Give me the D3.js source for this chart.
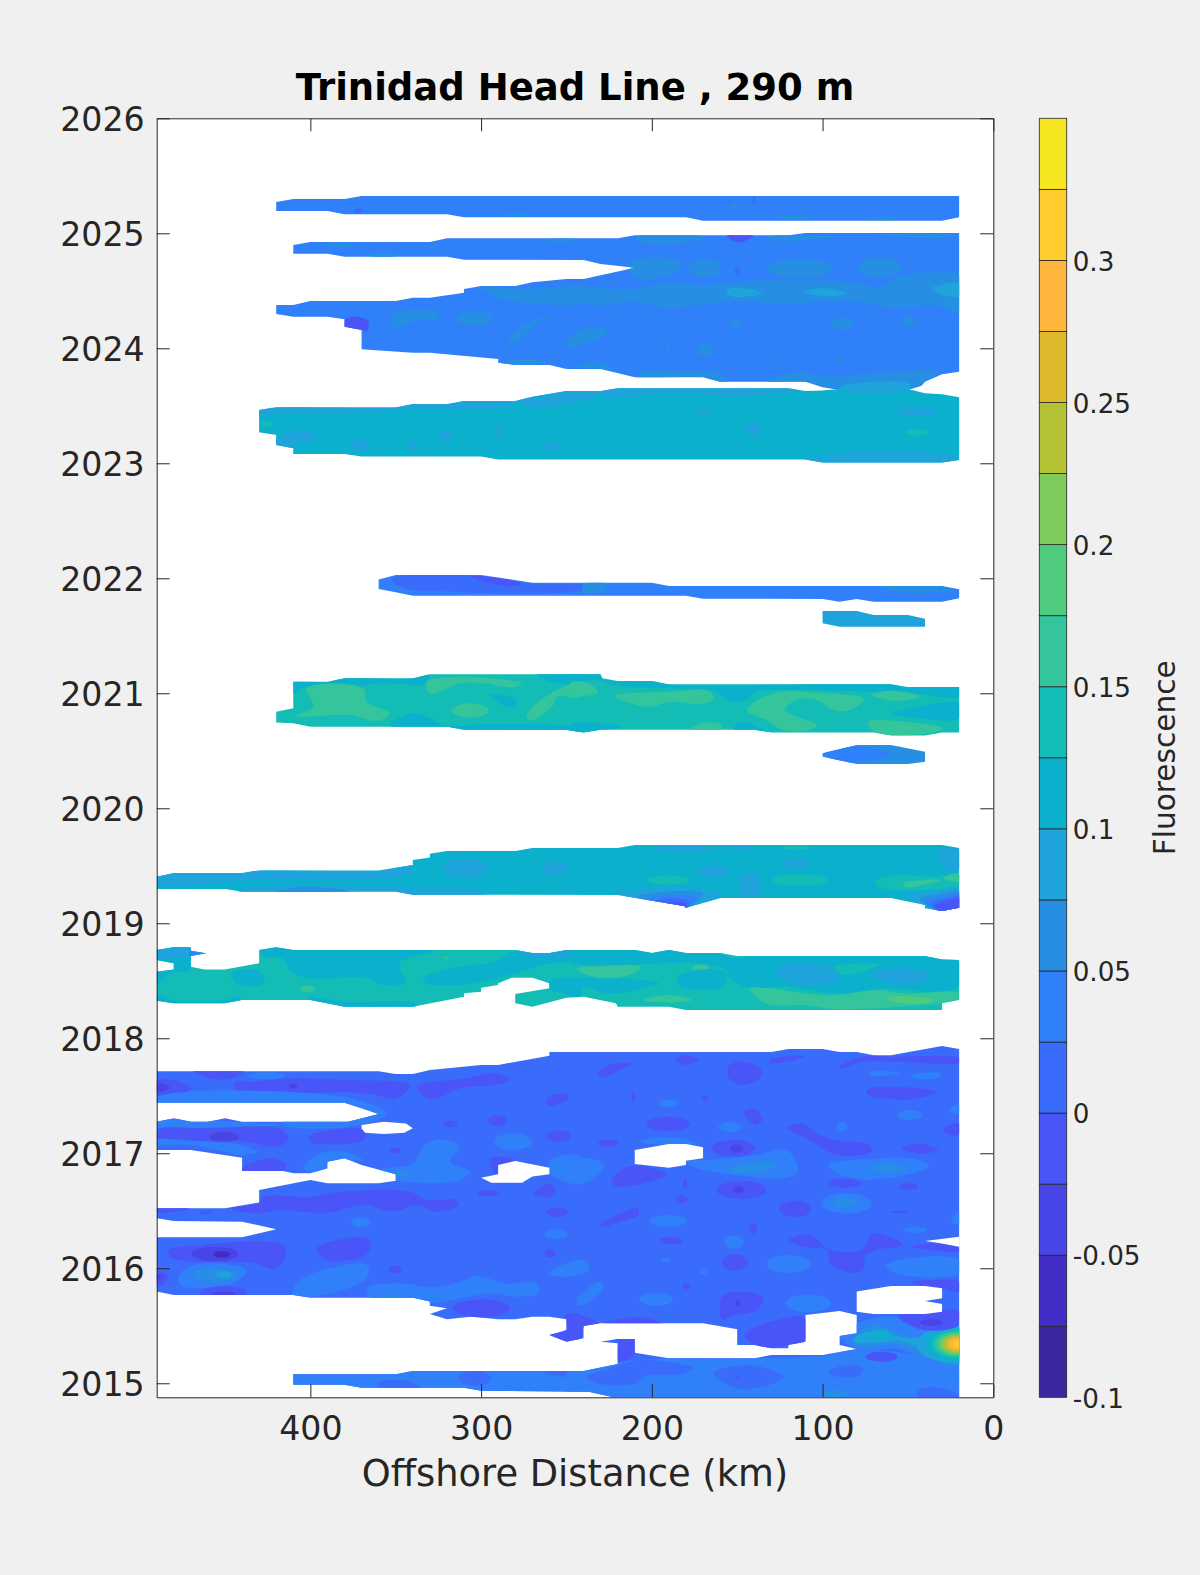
<!DOCTYPE html>
<html><head><meta charset="utf-8">
<script src="https://cdn.jsdelivr.net/npm/d3@7"></script>
<style>html,body{margin:0;padding:0;background:#f0f0f0}svg{display:block}text{font-family:"DejaVu Sans";fill:#262626}</style>
</head><body><svg id="c" width="1200" height="1575"></svg>
<script>
const titleText = "Trinidad Head Line , 290 m";
const xLabelText = "Offshore Distance (km)";
const barLabelText = "Fluorescence";
const distanceTicks = [400, 300, 200, 100, 0];
const yearTicks = [2015, 2016, 2017, 2018, 2019, 2020, 2021, 2022, 2023, 2024, 2025, 2026];
const barTicks = [-0.1, -0.05, 0, 0.05, 0.1, 0.15, 0.2, 0.25, 0.3];
const levels = [-0.1, -0.075, -0.05, -0.025, 0, 0.025, 0.05, 0.075, 0.1, 0.125, 0.15, 0.175, 0.2, 0.225, 0.25, 0.275, 0.3, 0.325, 0.35];
const levelColors = ["#3b26a0","#412cc5","#4845e6","#4a55f8","#3a6cfc","#2f80f9","#268fe3","#1fa3db","#0bb0cd","#13bdb6","#34c59c","#4fcb7e","#7fcb5c","#b3c132","#ddba2b","#fdb53c","#ffcc2e","#f6e621"];

// Measured extents: [fluorescence, outline as [km, year]]
const outline2025 = [[420,2025.272],[410,2025.298],[380,2025.298],[370,2025.324],[20,2025.324],[20,2025.139],[30,2025.11],[170,2025.11],[180,2025.139],[310,2025.139],[320,2025.165],[380,2025.165],[390,2025.194],[420,2025.194]];
const outline2024 = [[410,2024.898],[400,2024.924],[330,2024.924],[320,2024.956],[220,2024.956],[210,2024.982],[120,2024.982],[110,2025.003],[20,2025.003],[20,2023.797],[30,2023.774],[40,2023.71],[42,2023.675],[50,2023.637],[90,2023.637],[100,2023.661],[110,2023.71],[160,2023.71],[170,2023.748],[210,2023.748],[230,2023.82],[250,2023.82],[260,2023.855],[280,2023.855],[290,2023.875],[290,2023.907],[330,2023.962],[340,2023.962],[370,2023.991],[370,2024.159],[380,2024.188],[380,2024.252],[390,2024.275],[410,2024.275],[420,2024.298],[420,2024.377],[410,2024.377],[400,2024.411],[350,2024.411],[340,2024.44],[330,2024.44],[310,2024.484],[310,2024.516],[300,2024.542],[280,2024.542],[270,2024.574],[250,2024.603],[240,2024.603],[210,2024.701],[230,2024.733],[240,2024.768],[310,2024.771],[320,2024.797],[380,2024.797],[390,2024.823],[410,2024.823]];
const outline2023 = [[430,2023.464],[420,2023.487],[350,2023.487],[340,2023.516],[320,2023.516],[310,2023.542],[280,2023.542],[270,2023.579],[250,2023.629],[230,2023.629],[220,2023.652],[120,2023.652],[110,2023.629],[100,2023.632],[90,2023.646],[50,2023.646],[40,2023.608],[30,2023.6],[20,2023.574],[20,2023.029],[30,2023.006],[100,2023.006],[110,2023.032],[290,2023.032],[300,2023.058],[370,2023.058],[380,2023.081],[410,2023.081],[410,2023.13],[420,2023.159],[420,2023.246],[430,2023.269]];
const outline2022 = [[360,2021.99],[350,2022.029],[300,2022.029],[270,2021.962],[200,2021.962],[190,2021.933],[30,2021.933],[20,2021.904],[20,2021.826],[30,2021.797],[70,2021.797],[80,2021.82],[90,2021.797],[100,2021.82],[170,2021.823],[180,2021.849],[340,2021.849],[350,2021.878],[360,2021.907]];
const outline2021b = [[100,2021.716],[80,2021.716],[70,2021.681],[50,2021.681],[40,2021.649],[40,2021.579],[90,2021.579],[100,2021.608]];
const outline2021 = [[420,2020.84],[410,2020.869],[410,2021.101],[390,2021.101],[380,2021.13],[340,2021.13],[330,2021.165],[230,2021.165],[229,2021.13],[220,2021.107],[200,2021.107],[190,2021.078],[60,2021.078],[50,2021.055],[20,2021.055],[20,2020.658],[30,2020.658],[40,2020.632],[60,2020.632],[70,2020.658],[130,2020.658],[140,2020.684],[230,2020.684],[240,2020.658],[250,2020.68],[310,2020.684],[320,2020.71],[400,2020.71],[410,2020.739],[420,2020.745]];
const outline2020 = [[100,2020.478],[80,2020.55],[60,2020.55],[40,2020.492],[40,2020.405],[50,2020.385],[80,2020.385],[100,2020.449]];
const outline2019 = [[490,2019.405],[480,2019.437],[440,2019.437],[430,2019.46],[360,2019.46],[340,2019.507],[340,2019.55],[330,2019.573],[330,2019.605],[320,2019.628],[280,2019.628],[270,2019.654],[220,2019.654],[210,2019.681],[30,2019.681],[20,2019.654],[20,2019.136],[30,2019.107],[40,2019.13],[40,2019.159],[60,2019.22],[160,2019.22],[180,2019.136],[181,2019.15],[220,2019.246],[340,2019.249],[350,2019.275],[440,2019.275],[450,2019.298],[490,2019.298]];
const outline2018 = [[490,2018.768],[480,2018.791],[470,2018.791],[470,2018.762],[461,2018.739],[470,2018.715],[470,2018.623],[462,2018.599],[450,2018.599],[430,2018.652],[430,2018.768],[420,2018.791],[410,2018.768],[280,2018.768],[270,2018.741],[260,2018.741],[250,2018.768],[210,2018.768],[200,2018.741],[190,2018.768],[180,2018.741],[160,2018.741],[150,2018.715],[40,2018.715],[30,2018.686],[20,2018.681],[20,2018.333],[30,2018.304],[30,2018.246],[180,2018.246],[190,2018.275],[220,2018.275],[221,2018.304],[240,2018.362],[250,2018.353],[270,2018.275],[280,2018.304],[280,2018.385],[260,2018.434],[260,2018.478],[270,2018.527],[282,2018.527],[290,2018.478],[290,2018.463],[300,2018.44],[300,2018.405],[310,2018.391],[310,2018.362],[340,2018.275],[380,2018.275],[400,2018.333],[440,2018.333],[450,2018.304],[480,2018.304],[490,2018.327],[490,2018.579],[480,2018.599],[480,2018.652],[490,2018.681]];
const outlineLower = [[490,2017.713],[360,2017.713],[350,2017.689],[340,2017.689],[330,2017.724],[300,2017.768],[290,2017.768],[260,2017.849],[260,2017.881],[130,2017.881],[120,2017.907],[100,2017.907],[90,2017.881],[80,2017.881],[70,2017.852],[60,2017.852],[30,2017.933],[20,2017.907],[20,2014.878],[222.5,2014.878],[237,2014.927],[300,2014.936],[310,2014.962],[370,2014.962],[380,2014.988],[410,2014.988],[410,2015.078],[350,2015.078],[340,2015.107],[240,2015.107],[220,2015.168],[220,2015.347],[230,2015.362],[220,2015.385],[210,2015.385],[210,2015.266],[190,2015.217],[140,2015.217],[130,2015.246],[100,2015.246],[80,2015.298],[90,2015.333],[90,2015.411],[80,2015.434],[80,2015.594],[90,2015.628],[110,2015.594],[110,2015.362],[120,2015.333],[120,2015.304],[130,2015.304],[140,2015.333],[150,2015.333],[150,2015.469],[170,2015.521],[230,2015.521],[240,2015.498],[240,2015.391],[248,2015.368],[250,2015.362],[260,2015.42],[250,2015.463],[250,2015.556],[260,2015.579],[270,2015.579],[280,2015.556],[290,2015.556],[306,2015.579],[320,2015.556],[330,2015.602],[320,2015.652],[330,2015.675],[330,2015.71],[340,2015.744],[400,2015.744],[410,2015.768],[480,2015.768],[490,2015.797],[490,2016.269],[440,2016.269],[420,2016.339],[440,2016.405],[480,2016.411],[490,2016.434],[490,2016.521],[450,2016.521],[430,2016.573],[430,2016.681],[400,2016.768],[390,2016.739],[360,2016.739],[350,2016.762],[350,2016.817],[370,2016.898],[380,2016.956],[390,2016.927],[390,2016.869],[400,2016.826],[410,2016.826],[416,2016.846],[440,2016.846],[440,2016.962],[470,2017.028],[490,2017.028],[490,2017.275],[480,2017.304],[470,2017.275],[460,2017.275],[450,2017.304],[440,2017.275],[378,2017.275],[360,2017.342],[370,2017.391],[380,2017.44],[490,2017.44]];
const gap1 = [[370,2017.246],[357,2017.275],[344,2017.26],[340,2017.217],[345,2017.179],[357,2017.168],[368,2017.179],[370,2017.217]];
const gap2 = [[300,2016.788],[290,2016.817],[290,2016.898],[280,2016.933],[260,2016.875],[260,2016.817],[270,2016.797],[276,2016.744],[294,2016.744]];
const gap3 = [[210,2017.028],[190,2017.081],[180,2017.081],[170,2017.052],[170,2016.956],[180,2016.936],[180,2016.898],[190,2016.875],[210,2016.907]];
const gap4 = [[80,2015.797],[60,2015.846],[40,2015.846],[30,2015.826],[30,2015.739],[40,2015.715],[30,2015.689],[30,2015.623],[40,2015.602],[70,2015.602],[80,2015.623]];
const gap5 = [[40,2016.237],[20,2016.275],[20,2016.188],[31,2016.217]];

// Contour patches: [value, polygon] or [value, km, year, kmRadius, yearRadius]
const patches2025 = [
 [0.01,371.9,2025.197,2.3,.023],[0.06,279.2,2025.159,8,.015],[0.06,151.3,2025.232,2.3,.029],[0.01,139.9,2025.29,1,.029],[0.06,117.1,2025.139,10,.023],[0.06,64.4,2025.13,9,.017]
];
const patches2024 = [
 [-0.01,[[156.2,2024.982],[140.5,2024.982],[149.3,2024.918]]],
 [0.06,[[131.8,2024.971],[111.3,2024.985],[93.7,2024.971],[111.3,2024.942],[126.9,2024.936]]],
 [0.06,[[208.9,2024.971],[169.8,2024.971],[173.7,2024.936],[208.9,2024.936]]],
 [0.06,[[68.3,2024.985],[20,2024.985],[33.2,2024.956],[52.7,2024.965]]],
 [0.06,382.6,2024.898,9.8,.02],[0.06,252.8,2024.942,10.7,.015],[0.06,357.3,2024.811,9.8,.017],
 [0.06,[[214.7,2024.725],[199.1,2024.797],[181.5,2024.725],[189.3,2024.638],[208.9,2024.609]]],
 [0.06,168.8,2024.695,9.8,.081],[0.06,113.2,2024.695,19.5,.087],[0.06,66.4,2024.704,12.7,.087],[0.01,149.9,2024.675,1.6,.035],
 [0.06,[[247.9,2024.536],[228.4,2024.521],[208.9,2024.521],[193.2,2024.565],[169.8,2024.55],[150.3,2024.579],[111.3,2024.594],[85.9,2024.579],[66.4,2024.536],[54.7,2024.623],[20,2024.637],[20,2024.304],[33.2,2024.377],[52.7,2024.348],[85.9,2024.406],[126.9,2024.385],[150.3,2024.406],[193.2,2024.356],[210.8,2024.406],[224.5,2024.377],[247.9,2024.42]]],
 [0.06,[[300.6,2024.536],[279.2,2024.521],[259.7,2024.521],[242.1,2024.536],[242.1,2024.405],[269.4,2024.391],[290.9,2024.449]]],
 [0.09,[[156.2,2024.507],[144.4,2024.521],[134.7,2024.478],[144.4,2024.449],[154.2,2024.455]]],
 [0.09,[[111.3,2024.493],[97.6,2024.521],[85.9,2024.478],[99.5,2024.449]]],
 [0.09,[[36.1,2024.521],[20,2024.565],[20,2024.449],[29.3,2024.463]]],
 [0.06,[[351.4,2024.304],[341.6,2024.333],[326,2024.319],[325,2024.246],[337.7,2024.246],[347.5,2024.174],[351.4,2024.188]]],
 [0.06,303.6,2024.261,10.7,.064],
 [0.06,[[284.1,2024.072],[273.3,2024.217],[258.7,2024.289],[268.4,2024.203],[275.3,2024.087],[281.1,2024.043]]],
 [0.06,[[250.9,2024.029],[242.1,2024.159],[242.1,2024.02],[248,2024.014]]],
 [0.06,[[247.9,2024.101],[236.2,2024.188],[226,2024.159],[228.4,2024.101],[242,2024.029],[247.9,2024.014]]],
 [0.06,150.9,2024.211,2.5,.035],[0.06,88.8,2024.211,6.8,.052],[0.06,49.8,2024.232,3.9,.046],[0.06,168.8,2023.985,4.9,.052],[0.06,190.9,2024.006,1.6,.023],[0.06,130.4,2023.971,1.6,.023],[0.06,90.2,2023.898,1.6,.029],
 [-0.01,[[380.1,2024.246],[372.9,2024.275],[366,2024.232],[367,2024.145],[370.3,2024.159],[380.1,2024.188]]],
 [0.06,[[244,2023.84],[232.3,2023.89],[222.5,2023.82],[229.4,2023.82]]],
 [0.06,[[208.9,2023.748],[203,2023.806],[179.6,2023.797],[160,2023.782],[156.2,2023.71],[162,2023.71],[169.8,2023.748]]],
 [0.06,[[132.7,2023.71],[115.2,2023.791],[93.7,2023.753],[72.2,2023.782],[33.2,2023.797],[40,2023.71],[48.8,2023.652],[89.8,2023.652],[111.3,2023.71]]],
 [0.06,[[288.9,2023.875],[273.3,2023.913],[261.6,2023.869],[282.1,2023.855]]],
 [0.09,[[89.8,2023.666],[48.8,2023.695],[49.8,2023.637],[89.8,2023.637]]]
];
const patches2023 = [
 [0.09,[[430.1,2023.464],[419.7,2023.487],[347.5,2023.487],[339.7,2023.516],[317.2,2023.516],[310.4,2023.542],[279.2,2023.542],[288.9,2023.478],[337.7,2023.478],[376.8,2023.434],[419.7,2023.434],[430.1,2023.405]]],
 [0.14,425.2,2023.342,3.5,.029],
 [0.09,370.9,2023.159,5.9,.058],[0.09,321.1,2023.232,4.9,.043],[0.09,289.9,2023.275,2.9,.029],[0.09,258.7,2023.145,4.9,.035],[0.09,339.7,2023.145,2,.043],[0.09,406,2023.232,9.8,.058],[0.09,415.8,2023.174,5.9,.058],
 [0.09,44.9,2023.449,11.7,.043],[0.09,169.8,2023.443,2.9,.029],[0.09,140.5,2023.295,4.3,.064],[0.14,44.9,2023.269,6.8,.029],
 [0.09,[[91.7,2023.087],[42.9,2023.101],[20,2023.034],[20,2023],[102.5,2023],[110.3,2023.032]]],
 [0.09,[[228.4,2023.629],[221.5,2023.652],[121,2023.652],[113.2,2023.629],[150.3,2023.58],[189.3,2023.608],[228.4,2023.58]]],
 [0.09,[[247.9,2023.629],[228.4,2023.629],[238.1,2023.55],[247.9,2023.55]]],
 [0.09,[[279.2,2023.542],[270,2023.579],[249.9,2023.629],[242.1,2023.629],[242.1,2023.55],[269.4,2023.492]]]
];
const patches2022 = [
 [0.01,[[352.4,2021.999],[299.7,2022.02],[272.3,2021.956],[242.1,2021.95],[225,2021.94],[242.1,2021.885],[298.7,2021.872],[318.2,2021.884],[345.5,2021.913]]],
 [-0.01,[[306,2022.015],[298.7,2022.015],[276,2021.958],[283,2021.93],[296.7,2021.965]]],
 [0.06,[[240,2021.95],[226,2021.95],[228,2021.9],[240,2021.87]]],
 [0.06,[[66.4,2021.927],[29.3,2021.927],[23.4,2021.898],[52.7,2021.878]]]
];
const patches2020 = [
 [0.04,[[100,2020.47],[80,2020.54],[60,2020.47],[75,2020.41],[85,2020.39],[95,2020.43]]]
];
const patches2021 = [
 [0.11,[[411.9,2021.072],[410,2021.101],[388.5,2021.101],[382.6,2021.13],[339.7,2021.13],[330.9,2021.165],[331.9,2021.087],[357.2,2021.087],[386.5,2021.043],[402.2,2021.058],[410,2021]]],
 [0.11,[[267.5,2021.159],[242.1,2021.165],[242.1,2021.087],[259.6,2021.101]]],
 [0.11,[[247.9,2021.165],[230.3,2021.165],[229.4,2021.13],[222.5,2021.107],[199.1,2021.107],[191.3,2021.078],[59.5,2021.078],[52.7,2021.055],[20,2021.055],[20,2020.971],[52.7,2021.014],[72.2,2021.014],[111.3,2021.029],[138.6,2021.014],[144.4,2020.942],[156.2,2020.942],[162,2021.014],[189.3,2021.043],[222.5,2021.072],[232.3,2021.116],[247.9,2021.101]]],
 [0.11,[[60.5,2020.826],[43,2020.884],[20,2020.913],[20,2020.782],[43,2020.782]]],
 [0.11,[[353.4,2020.724],[339.7,2020.826],[322.1,2020.724],[318.2,2020.704],[351.4,2020.704]]],
 [0.11,[[318.2,2020.71],[242.1,2020.695],[242.1,2020.663],[248.9,2020.68],[311.4,2020.675]]],
 [0.11,[[247.9,2020.733],[231.3,2020.739],[216.7,2020.71],[231.3,2020.675],[240.1,2020.652],[247.9,2020.666]]],
 [0.11,[[152.3,2020.681],[148.3,2020.753],[132.7,2020.666],[140.5,2020.675]]],
 [0.11,[[294.8,2020.985],[279.2,2020.942],[280.2,2020.884],[287,2020.898]]],
 [0.16,[[402.2,2021.043],[369,2021.043],[367,2020.927],[353.4,2020.826],[361.2,2020.759],[376.8,2020.811],[408,2020.803],[398.3,2020.884]]],
 [0.16,[[331.9,2021.101],[308.5,2021.144],[288.9,2021.121],[276.2,2021.092],[281.1,2021.052],[298.7,2021.087],[312.4,2021.087],[329.9,2021]]],
 [0.16,306.5,2020.849,10.7,.064],
 [0.16,[[273.3,2020.811],[257.7,2021.014],[242.1,2021.087],[242.1,2020.971],[255.8,2020.971],[257.7,2020.898],[271.4,2020.762]]],
 [0.16,[[247.9,2021.087],[240.1,2021.101],[231.3,2021.014],[239.1,2020.976],[247.9,2020.971]]],
 [0.16,[[221.5,2020.979],[189.3,2021.014],[165.9,2021.014],[164,2020.942],[173.7,2020.907],[189.3,2020.927],[201,2020.884],[212.8,2020.913]]],
 [0.16,[[177.6,2020.684],[169.8,2020.745],[159.1,2020.724],[160,2020.675]]],
 [0.16,[[144.4,2020.855],[128.8,2021],[107.4,2021.008],[76.1,2020.948],[83.9,2020.855],[93.7,2020.855],[103.4,2020.942],[115.2,2020.942],[122,2020.855],[103.4,2020.724],[107.4,2020.681],[122.9,2020.681],[132.7,2020.768]]],
 [0.16,[[71.2,2020.985],[60.5,2021.023],[43,2020.971],[56.6,2020.933]]],
 [0.16,[[73.2,2020.753],[66.4,2020.768],[29.3,2020.695],[38,2020.652],[62.5,2020.637],[71.2,2020.681]]]
];
const patches2019 = [
 [0.09,[[490,2019.405],[480.2,2019.437],[440.2,2019.437],[430.5,2019.46],[357.2,2019.46],[340.7,2019.507],[341.6,2019.434],[386.5,2019.376],[435.3,2019.376],[490,2019.333]]],
 [0.09,[[442.2,2019.275],[349.5,2019.275],[342.6,2019.249],[298.7,2019.249],[298.7,2019.275],[345.5,2019.318],[396.3,2019.333],[435.3,2019.318]]],
 [0.06,[[419.7,2019.275],[408,2019.312],[392.4,2019.312],[376.8,2019.275]]],
 [0.09,309.4,2019.478,12.7,.087],[0.09,256.7,2019.478,7.8,.064],
 [0.09,164,2019.449,9.8,.052],[0.09,149.3,2019.66,6.8,.023],[0.14,115.2,2019.66,7.8,.023],[0.09,116.1,2019.521,7.8,.043],
 [0.09,[[148.3,2019.405],[138.6,2019.42],[136.6,2019.246],[146.4,2019.232]]],
 [0.09,181.5,2019.652,17.6,.029],
 [0.09,[[33.2,2019.637],[20,2019.637],[20,2019.463],[29.3,2019.492]]],
 [0.14,190.3,2019.376,12.1,.041],[0.14,113.2,2019.376,16.6,.049],
 [0.14,[[69.3,2019.362],[56.6,2019.42],[33.2,2019.405],[20,2019.434],[20,2019.333],[52.7,2019.289],[66.4,2019.312]]],
 [0.16,[[52.7,2019.347],[41,2019.376],[31.2,2019.376],[41,2019.333],[51.7,2019.318]]],
 [0.16,[[29.3,2019.391],[20,2019.434],[20,2019.362]]],
 [0.09,[[220.6,2019.26],[205,2019.304],[183.5,2019.318],[158.1,2019.246],[160,2019.217],[180.6,2019.13],[218.6,2019.246]]],
 [0.06,[[208.9,2019.231],[191.3,2019.275],[169.8,2019.26],[180.6,2019.13]]],
 [0.04,[[203,2019.208],[189.3,2019.246],[173.7,2019.217],[180.6,2019.13]]],
 [0.01,[[198.1,2019.194],[187.4,2019.217],[177.6,2019.188],[180.6,2019.13]]],
 [-0.01,[[192.3,2019.168],[184.5,2019.188],[179.6,2019.168],[180.6,2019.13]]],
 [0.09,[[50.7,2019.246],[33.2,2019.289],[20,2019.304],[20,2019.115],[31.2,2019.1],[41,2019.159]]],
 [0.06,[[42.9,2019.217],[31.2,2019.255],[20,2019.275],[20,2019.115],[31.2,2019.1]]],
 [0.04,[[39,2019.188],[29.3,2019.231],[20,2019.255],[20,2019.115],[31.2,2019.1]]],
 [0.01,[[36.1,2019.168],[27.3,2019.217],[20,2019.231],[20,2019.115],[31.2,2019.1]]],
 [-0.01,[[34.2,2019.15],[25.4,2019.202],[20,2019.217],[20,2019.115],[30.2,2019.1]]]
];
const patches2018 = [
 [0.11,[[490,2018.782],[470.5,2018.791],[470.5,2018.594],[482.2,2018.565],[490,2018.463]]],
 [0.09,[[490,2018.768],[470.5,2018.791],[470.5,2018.715],[480.2,2018.695],[490,2018.695]]],
 [0.04,[[470.5,2018.762],[461.1,2018.739],[470.5,2018.715]]],
 [0.11,[[429.5,2018.782],[367,2018.782],[328,2018.762],[347.5,2018.657],[344.6,2018.478],[357.2,2018.463],[369,2018.53],[402.2,2018.521],[411.9,2018.594],[416.8,2018.695],[427.5,2018.71]]],
 [0.11,[[333.8,2018.521],[318.2,2018.608],[292.8,2018.666],[279.2,2018.762],[242.1,2018.762],[242.1,2018.695],[263.6,2018.637],[287,2018.536],[312.4,2018.463],[331.9,2018.478]]],
 [0.11,[[446.1,2018.565],[431.4,2018.594],[426.6,2018.507],[429.5,2018.463],[443.1,2018.472]]],
 [0.11,[[490,2018.391],[482.2,2018.333],[450,2018.333],[441.2,2018.362],[441.2,2018.318],[450,2018.289],[482.2,2018.289],[490,2018.318]]],
 [0.11,[[400.2,2018.362],[380.7,2018.318],[338.7,2018.304],[338.7,2018.26],[380.7,2018.26],[402.2,2018.318]]],
 [0.11,[[260.6,2018.492],[242.1,2018.507],[242.1,2018.353],[251.8,2018.391],[260.6,2018.434]]],
 [0.09,[[279.2,2018.768],[272.3,2018.741],[258.7,2018.741],[249.9,2018.768],[242.1,2018.768],[242.1,2018.724],[259.7,2018.695],[275.3,2018.724]]],
 [0.16,401.8,2018.428,4.3,.029],[0.16,320.6,2018.701,1,.015],
 [0.11,[[247.9,2018.768],[160,2018.739],[152.2,2018.695],[144.4,2018.71],[138.6,2018.715],[41,2018.715],[20,2018.666],[20,2018.463],[33.2,2018.399],[60.5,2018.434],[91.7,2018.391],[121,2018.449],[142.5,2018.434],[154.2,2018.521],[156.2,2018.594],[177.6,2018.652],[247.9,2018.666]]],
 [0.16,[[244,2018.608],[230.3,2018.628],[206.9,2018.623],[208.9,2018.579],[230.3,2018.521]]],
 [0.16,[[175.7,2018.623],[167.9,2018.637],[166.9,2018.579],[175.7,2018.579]]],
 [0.11,[[247.9,2018.507],[228.4,2018.521],[196.2,2018.483],[208.9,2018.42],[226.4,2018.391],[240.1,2018.449],[247.9,2018.449]]],
 [0.11,[[185.4,2018.521],[173.7,2018.594],[156.2,2018.565],[158.1,2018.449],[169.8,2018.42],[183.5,2018.449]]],
 [0.09,[[126.9,2018.608],[111.3,2018.652],[93.7,2018.608],[89.8,2018.507],[103.4,2018.463],[121,2018.492]]],
 [0.09,[[72.2,2018.565],[52.7,2018.608],[37.1,2018.565],[41,2018.492],[60.5,2018.478]]],
 [0.14,[[93.7,2018.617],[66.4,2018.646],[80,2018.565],[89.8,2018.559]]],
 [0.16,[[142.5,2018.434],[130.8,2018.434],[111.3,2018.391],[91.7,2018.376],[68.3,2018.42],[52.7,2018.391],[20,2018.391],[20,2018.347],[31.2,2018.304],[41,2018.289],[91.7,2018.252],[111.3,2018.289],[132.7,2018.298]]],
 [0.16,[[205,2018.333],[189.3,2018.376],[176.6,2018.333],[189.3,2018.31]]],
 [0.19,[[63.4,2018.347],[52.7,2018.367],[34.1,2018.333],[46.8,2018.298]]]
];
const patchesLower = [
 [-0.01,[[468.5,2017.713],[439.2,2017.713],[445.1,2017.652],[458.8,2017.652]]],
 [0.04,425.6,2017.675,10.7,.029],
 [-0.01,[[444.1,2017.623],[435.3,2017.623],[410,2017.652],[376.8,2017.637],[341.6,2017.594],[349.5,2017.478],[367,2017.521],[406.1,2017.521],[435.3,2017.498],[444.1,2017.536]]],
 [-0.04,410,2017.585,2.3,.023],
 [-0.01,[[490,2017.637],[476.3,2017.623],[469.5,2017.565],[478.3,2017.507],[490,2017.507]]],
 [-0.04,[[491,2017.608],[482.2,2017.571],[491,2017.527]]],
 [-0.01,[[337.7,2017.579],[308.5,2017.652],[290.9,2017.695],[283.1,2017.637],[292.8,2017.594],[312.4,2017.565],[328,2017.469],[334.8,2017.507]]],
 [0.04,[[490,2017.486],[378.7,2017.486],[355.3,2017.342],[376.8,2017.231],[415.8,2017.246],[415.8,2017.289],[376.8,2017.289],[365,2017.342],[378.7,2017.42],[490,2017.42]]],
 [0.04,[[490,2017.275],[443.1,2017.275],[415.8,2017.246],[454.9,2017.226],[490,2017.226]]],
 [-0.01,[[490,2017.202],[460.7,2017.217],[415.8,2017.202],[412.9,2017.115],[419.7,2017.057],[439.2,2017.101],[464.6,2017.101],[490,2017.13]]],
 [-0.04,450.6,2017.144,8.8,.043],
 [-0.01,[[401.2,2017.144],[372.9,2017.217],[367,2017.159],[370.9,2017.101],[390.4,2017.078],[400.2,2017.101]]],
 [0.04,[[490,2017.081],[468.5,2017.072],[440.2,2016.985],[431.4,2017.014],[441.2,2017.072],[470.5,2017.11],[490,2017.115]]],
 [-0.01,[[440.2,2016.869],[423.6,2016.956],[413.9,2016.898],[415.8,2016.846],[440.2,2016.846]]],
 [0.04,[[404.1,2016.869],[396.3,2016.985],[378.7,2017.014],[369,2016.936],[378.7,2016.942],[390.4,2016.912],[390.4,2016.855],[400.2,2016.84]]],
 [-0.01,350.4,2017.023,2.9,.029],
 [0.04,[[359.2,2016.855],[339.7,2016.912],[333.8,2017.057],[324.1,2017.121],[312.4,2017.057],[318.2,2016.927],[306.5,2016.84],[312.4,2016.768],[326,2016.739],[343.6,2016.753],[350.4,2016.768]]],
 [0.06,346.5,2016.826,3.5,.023],
 [-0.01,318.2,2017.255,4.3,.029],[-0.01,290.5,2017.284,5.5,.049],[0.04,281.1,2017.101,11.3,.072],
 [-0.01,[[261.6,2017.478],[249.9,2017.521],[248.9,2017.478],[260.6,2017.411]]],
 [-0.01,254.8,2017.15,7.4,.049],
 [-0.01,[[294.8,2016.956],[287,2016.97],[280.2,2016.941],[289.9,2016.89],[290.9,2016.826],[293.8,2016.869]]],
 [0.04,[[259.7,2016.941],[242.1,2016.97],[242.1,2016.739],[259.7,2016.826]]],
 [0.04,[[247.9,2016.941],[232.3,2016.941],[227.4,2016.884],[240.1,2016.739],[247.9,2016.782]]],
 [-0.01,[[447,2016.521],[429.5,2016.573],[427.5,2016.623],[400.2,2016.623],[382.6,2016.666],[341.6,2016.666],[331.9,2016.594],[314.3,2016.594],[313.3,2016.55],[326,2016.492],[337.7,2016.55],[351.4,2016.492],[368.9,2016.55],[392.4,2016.478],[415.8,2016.507],[429.5,2016.478]]],
 [-0.01,295.8,2016.652,6.8,.029],
 [-0.01,[[269.4,2016.652],[259.7,2016.739],[256.1,2016.666],[261.6,2016.617]]],
 [-0.01,255.4,2016.486,6.2,.041],[0.04,370.5,2016.4,5.5,.043],[0.04,256.1,2016.298,6.8,.041],
 [-0.01,461.7,2016.486,2.9,.015],
 [-0.01,[[490,2016.521],[470.5,2016.521],[482.2,2016.483],[490,2016.492]]],
 [-0.01,[[483.2,2016.159],[464.6,2016.202],[415.8,2016.202],[414.8,2016.101],[420.7,2015.999],[435.3,2016.049],[468.5,2016.057],[482.2,2016.101]]],
 [-0.04,455.8,2016.124,13.7,.064],[-0.06,451.9,2016.121,4.9,.029],
 [-0.01,[[396.3,2016.173],[384.6,2016.246],[366,2016.26],[365.1,2016.159],[369,2016.101],[390.4,2016.072]]],
 [-0.01,350.4,2015.991,3.9,.035],[-0.01,259.7,2016.13,3.5,.038],
 [0.04,[[476.3,2015.956],[462.7,2016.043],[437.3,2015.985],[445.1,2015.869],[476.3,2015.855]]],
 [0.06,455.8,2015.942,12.7,.058],[0.09,450.9,2015.947,4.9,.029],
 [-0.01,[[490,2015.985],[483.2,2015.927],[487.1,2015.855],[490,2015.855]]],
 [-0.04,[[491,2015.956],[487.1,2015.921],[491,2015.883]]],
 [-0.01,450.9,2015.791,13.7,.052],[-0.04,450.9,2015.776,6.8,.023],
 [0.04,[[410,2015.759],[408,2015.869],[392.4,2015.985],[367,2016.028],[366,2015.941],[372.9,2015.855],[396.3,2015.759]]],
 [0.04,[[367,2015.826],[345.5,2015.869],[333.8,2015.84],[318.2,2015.855],[301.6,2015.933],[287,2015.869],[267.5,2015.869],[266.5,2015.782],[281.1,2015.753],[292.8,2015.782],[316.3,2015.724],[328,2015.695],[339.7,2015.739],[365.1,2015.747]]],
 [0.06,354.3,2015.753,6.8,.02],
 [-0.01,299.7,2015.652,16.6,.078],
 [0.04,[[260.6,2015.956],[247.9,2016.057],[242.1,2016.072],[242.1,2015.956],[255.8,2015.927]]],
 [-0.01,[[260.2,2015.42],[250.3,2015.463],[250.3,2015.594],[242.1,2015.594],[242.1,2015.362],[249.9,2015.362]]],
 [0.04,[[411.9,2015.115],[242.1,2015.115],[242.1,2014.912],[411.9,2014.912]]],
 [0.01,[[361.2,2015],[353.4,2015.028],[341.6,2015.014],[335.8,2014.962],[359.2,2014.962]]],
 [0.01,303.6,2015.043,9.4,.064],
 [0.01,[[263.6,2015.107],[242.1,2015.107],[242.1,2015.057],[257.7,2015.072]]],
 [0.04,[[247.9,2015.13],[220.6,2015.188],[189.3,2015.217],[138.6,2015.217],[96.6,2015.246],[80,2015.298],[20,2015.115],[20,2014.87],[247.9,2014.87]]],
 [0.01,[[238.1,2015.057],[224.5,2015.13],[208.9,2015.202],[199.1,2015.202],[175.7,2015.13],[181.5,2015.086],[205,2015.057],[208.9,2015],[232.3,2015]]],
 [0.01,[[164,2015.086],[142.5,2015.159],[122.9,2015.057],[130.8,2014.985],[150.3,2014.956]]],
 [-0.01,149.7,2015.043,1,.023],[-0.01,65.4,2015.231,9.2,.043],
 [0.01,[[96.6,2015.101],[85.9,2015.159],[76.1,2015.13],[78.1,2015.072],[91.7,2015.057]]],
 [0.01,[[44.9,2014.927],[33.2,2014.965],[21.5,2014.912],[20,2014.87],[42.9,2014.87]]],
 [0.06,92.7,2014.912,6.8,.035],
 [0.04,[[89.8,2015.411],[80,2015.521],[56.6,2015.579],[41,2015.463],[20,2015.492],[20,2015.115],[37.1,2015.144],[52.7,2015.289],[80,2015.298]]],
 [0.06,[[80,2015.434],[68.3,2015.507],[54.7,2015.434],[41,2015.376],[20,2015.478],[20,2015.159],[41,2015.231],[54.7,2015.333],[82,2015.333]]],
 [0.09,[[80,2015.411],[64.4,2015.463],[55.6,2015.405],[41,2015.38],[41,2015.31],[55,2015.37],[66.4,2015.353],[82,2015.362]]],
 [0.11,67.3,2015.42,7.8,.029],
 [0.09,21,2015.341,24,.168],[0.11,21,2015.341,18.5,.145],[0.14,21,2015.341,15.2,.128],[0.16,21,2015.341,13.3,.11],[0.19,21,2015.341,11.3,.096],[0.21,21,2015.341,9.8,.084],[0.24,21,2015.341,8.2,.072],[0.26,21,2015.341,6.6,.061],[0.29,21,2015.341,4.9,.049],[0.31,21,2015.341,2.3,.029],
 [-0.01,[[55.6,2015.579],[44.9,2015.623],[20,2015.623],[20,2015.507],[41,2015.463]]],
 [-0.04,36.1,2015.527,6.8,.029],
 [-0.01,[[47.8,2015.884],[33.2,2015.898],[20,2015.884],[20,2015.797],[30.2,2015.826],[41,2015.846]]],
 [-0.01,[[231.3,2017.71],[222.5,2017.782],[211.8,2017.776],[220.6,2017.71],[230.3,2017.66]]],
 [-0.01,[[186.4,2017.811],[180.6,2017.855],[172.7,2017.811],[180.6,2017.768]]],
 [-0.01,[[155.2,2017.753],[148.3,2017.797],[136.6,2017.739],[135.7,2017.666],[146.4,2017.594],[154.2,2017.637]]],
 [-0.01,[[130.8,2017.811],[121,2017.846],[110.3,2017.846],[121,2017.797],[130.8,2017.788]]],
 [-0.01,[[90.8,2017.747],[76.1,2017.84],[60.5,2017.84],[20,2017.826],[20,2017.788],[56.6,2017.797],[76.1,2017.797],[87.8,2017.739]]],
 [-0.01,[[74.2,2017.55],[66.4,2017.579],[33.2,2017.536],[41,2017.486],[62.5,2017.469],[73.2,2017.507]]],
 [0.04,[[72.2,2017.71],[52.7,2017.695],[72.2,2017.681]]],
 [0.04,[[47.8,2017.681],[30.2,2017.695],[33.2,2017.652],[46.8,2017.652]]],
 [-0.01,210.8,2017.492,1,.043],[-0.01,168.8,2017.478,2,.023],[0.04,190.3,2017.434,5.5,.035],
 [-0.01,190.3,2017.255,12.7,.064],
 [-0.01,[[146.4,2017.362],[140.9,2017.391],[135.1,2017.304],[138.6,2017.246]]],
 [0.04,154.2,2017.226,6.8,.043],
 [-0.01,[[121,2017.217],[111.3,2017.26],[103.4,2017.173],[91.7,2017.115],[72.2,2017.072],[71.2,2017.014],[91.7,2016.985],[103.4,2017.072],[111.3,2017.144]]],
 [0.04,88.8,2017.231,2.9,.038],
 [-0.01,[[29.3,2017.217],[20,2017.26],[20,2017.159],[27.3,2017.173]]],
 [-0.01,[[53.7,2017.043],[43.9,2017.086],[32.2,2017.028],[43,2016.994]]],
 [0.04,48.8,2017.333,7.4,.043],
 [0.04,[[25.4,2017.391],[20,2017.42],[20,2017.347],[24.4,2017.353]]],
 [-0.01,225.5,2017.086,5.9,.035],
 [0.04,[[206.9,2017.101],[197.1,2017.139],[183.5,2017.13],[173.7,2017.081],[189.3,2017.072]]],
 [-0.01,152.3,2017.043,12.7,.072],[-0.04,150.3,2017.04,3.9,.035],
 [0.04,[[179.6,2016.927],[165.9,2016.941],[138.6,2016.985],[121,2017.028],[114.2,2016.84],[122.9,2016.782],[150.3,2016.811],[173.7,2016.869]]],
 [0.06,[[154.2,2016.869],[132.7,2016.927],[126.9,2016.898],[138.6,2016.826],[152.3,2016.84]]],
 [0.04,[[96.6,2016.898],[76.1,2016.947],[44.9,2016.947],[38,2016.884],[54.7,2016.797],[76.1,2016.773],[91.7,2016.826]]],
 [0.06,[[74.2,2016.869],[62.5,2016.907],[49.8,2016.869],[62.5,2016.84]]],
 [-0.01,[[223.5,2016.753],[216.7,2016.869],[205,2016.889],[191.3,2016.811],[208.9,2016.724],[220.6,2016.709]]],
 [-0.01,180.6,2016.733,1.2,.038],[-0.01,182.5,2016.6,3.5,.035],
 [-0.01,86.9,2016.739,9.8,.041],[-0.01,49.8,2016.71,5.9,.029],[-0.01,147.4,2016.681,14.6,.078],[-0.04,149.3,2016.681,3.3,.029],
 [0.04,85.9,2016.565,14.6,.087],[0.06,86.9,2016.57,6.8,.043],
 [-0.01,116.1,2016.515,9.4,.072],
 [-0.01,[[230.3,2016.376],[218.6,2016.478],[207.9,2016.521],[207.9,2016.463],[218.6,2016.405],[229.4,2016.362]]],
 [0.04,190.3,2016.411,10.7,.052],[-0.01,54.7,2016.492,5.9,.009],
 [0.04,[[24.4,2016.434],[20,2016.492],[20,2016.376],[23.4,2016.391]]],
 [0.04,45.9,2016.333,6.8,.029],[-0.01,140.5,2016.347,2.3,.046],[-0.01,188.9,2016.24,6.8,.035],[0.04,151.9,2016.231,5.9,.058],
 [-0.01,[[120,2016.246],[107.4,2016.289],[95.6,2016.159],[77.1,2016.159],[70.3,2016.304],[52.7,2016.202],[68.3,2016.159],[75.1,2016.101],[76.1,2015.985],[83.9,2015.962],[95.6,2016.043],[97.6,2016.159],[111.3,2016.188]]],
 [-0.01,[[47.8,2016.188],[33.2,2016.217],[20,2016.173],[20,2016.144],[37.1,2016.159]]],
 [0.04,242,2016.014,5.5,.064],[0.04,191.7,2016.072,2.9,.017],[-0.01,151.3,2016.049,7.8,.072],[0.04,120,2016.037,12.7,.078],
 [0.04,[[63.4,2016.014],[52.7,2016.078],[20,2016.072],[20,2015.956],[52.7,2015.941]]],
 [0.04,169.8,2015.971,2,.023],[-0.01,179.6,2015.846,2.3,.029],
 [0.04,[[244,2015.724],[230.3,2015.884],[228.4,2015.826],[238.1,2015.695],[243,2015.681]]],
 [0.04,197.5,2015.73,9.8,.058],[0.04,108.3,2015.695,13.3,.078],
 [-0.01,[[160.1,2015.695],[158.1,2015.768],[146.4,2015.797],[134.7,2015.739],[138.6,2015.637],[154.2,2015.579],[159.1,2015.55]]],
 [-0.04,149.7,2015.695,1.2,.035],
 [-0.01,[[247.9,2015.585],[240.1,2015.585],[231.3,2015.521],[238.1,2015.492],[247.9,2015.434]]],
 [-0.01,[[228.4,2015.521],[208.9,2015.579],[193.2,2015.521]]],
 [-0.01,[[145.4,2015.434],[126.9,2015.55],[110.3,2015.565],[110.3,2015.362],[120,2015.333],[131.8,2015.304],[144.4,2015.376]]],
 [-0.01,[[229.4,2015.362],[209.9,2015.391],[209.9,2015.26],[216.7,2015.188],[220.6,2015.203],[220.6,2015.376]]]
];

// Data regions, each with the value that fills most of it
const regionBases = [0.04, 0.04, 0.11, 0.04, 0.09, 0.14, 0.06, 0.11, 0.14, 0.01];
const regionOutlines = [outline2025, outline2024, outline2023, outline2022, outline2021b, outline2021, outline2020, outline2019, outline2018, outlineLower];
const patchGroups = [patches2025, patches2024, patches2023, patches2022, patches2021, patches2020, patches2019, patches2018, patchesLower];
const dataGaps = [gap1, gap2, gap3, gap4, gap5];

const L = 156.7, R = 993.3, T = 118.3, B = 1397.3;
const x = d3.scaleLinear().domain([490, 0]).range([L, R]);
const y = d3.scaleLinear().domain([2014.878, 2026]).range([B, T]);
const color = d3.scaleThreshold().domain(levels.slice(1, -1)).range(levelColors);
const barY = d3.scaleLinear().domain([-0.1, 0.35]).range([B, T]);
const sharp = d3.line().x(d => x(d[0])).y(d => y(d[1])).curve(d3.curveLinearClosed);
const smooth = d3.line().x(d => x(d[0])).y(d => y(d[1])).curve(d3.curveCatmullRomClosed.alpha(0.5));

const svg = d3.select("#c");
svg.append("rect").attr("width", 1200).attr("height", 1575).attr("fill", "#f0f0f0");
svg.append("rect").attr("x", L).attr("y", T).attr("width", R - L).attr("height", B - T).attr("fill", "#fff");

const defs = svg.append("defs");
defs.append("clipPath").attr("id", "data").selectAll("path").data(regionOutlines).join("path").attr("d", sharp);
defs.append("clipPath").attr("id", "plot").append("rect").attr("x", L).attr("y", T).attr("width", R - L).attr("height", B - T);

const plot = svg.append("g").attr("clip-path", "url(#plot)");
plot.selectAll("path.base").data(regionOutlines).join("path").attr("class", "base")
  .attr("d", sharp).attr("fill", (d, i) => color(regionBases[i]));
const inner = plot.append("g").attr("clip-path", "url(#data)");
patchGroups.forEach(group => {
  group.forEach(p => {
    if (p.length === 2) inner.append("path").attr("d", smooth(p[1])).attr("fill", color(p[0]));
    else inner.append("ellipse").attr("cx", x(p[1])).attr("cy", y(p[2]))
      .attr("rx", x(0) - x(p[3])).attr("ry", y(2015) - y(2015 + p[4])).attr("fill", color(p[0]));
  });
});
plot.selectAll("path.gap").data(dataGaps).join("path").attr("class", "gap").attr("d", sharp).attr("fill", "#fff");

function styleAxis(g, size) {
  g.selectAll(".domain").attr("stroke", "#262626").attr("stroke-width", 1);
  g.selectAll("line").attr("stroke", "#262626").attr("stroke-width", 1);
  g.selectAll("text").attr("font-size", size).attr("font-family", "DejaVu Sans").attr("fill", "#262626");
}
const tick = 13;
const axB = svg.append("g").attr("transform", `translate(0,${B})`)
  .call(d3.axisBottom(x).tickValues(distanceTicks).tickFormat(d3.format("d")).tickSizeInner(-tick).tickSizeOuter(0).tickPadding(tick + 5));
styleAxis(axB, 33.2);
axB.selectAll("text").attr("y", 0).attr("dy", null).attr("transform", "translate(0,42.7)");
const axL = svg.append("g").attr("transform", `translate(${L},0)`)
  .call(d3.axisLeft(y).tickValues(yearTicks).tickFormat(d3.format("d")).tickSizeInner(-tick).tickSizeOuter(0).tickPadding(12));
styleAxis(axL, 33.2);
axL.selectAll("text").attr("dy", "0.37em");
const axT = svg.append("g").attr("transform", `translate(0,${T})`)
  .call(d3.axisTop(x).tickValues(distanceTicks).tickFormat("").tickSizeInner(-tick).tickSizeOuter(0));
styleAxis(axT, 33);
const axR = svg.append("g").attr("transform", `translate(${R},0)`)
  .call(d3.axisRight(y).tickValues(yearTicks).tickFormat("").tickSizeInner(-tick).tickSizeOuter(0));
styleAxis(axR, 33);

svg.append("text").attr("x", (L + R) / 2).attr("y", 100).attr("text-anchor", "middle")
  .attr("font-size", 37).attr("font-weight", "bold").style("fill", "#000").text(titleText);
svg.append("text").attr("x", (L + R) / 2).attr("y", 1485.5).attr("text-anchor", "middle")
  .attr("font-size", 36.8).text(xLabelText);

// Colour bar
const CL = 1039.3, CR = 1066.7;
svg.append("g").selectAll("rect").data(levelColors).join("rect")
  .attr("x", CL).attr("width", CR - CL)
  .attr("y", (d, i) => barY(levels[i + 1])).attr("height", (d, i) => barY(levels[i]) - barY(levels[i + 1]))
  .attr("fill", d => d).attr("stroke", "#262626").attr("stroke-width", 0.8);
const axC = svg.append("g").attr("transform", `translate(${CR},0)`)
  .call(d3.axisRight(barY).tickValues(barTicks).tickFormat(d => String(d)).tickSize(0).tickPadding(6));
axC.select(".domain").remove();
styleAxis(axC, 26.2);
axC.selectAll("text").attr("dy", "0.37em");
svg.append("text").attr("transform", `translate(1175,${(T + B) / 2}) rotate(-90)`).attr("text-anchor", "middle")
  .attr("font-size", 29.6).text(barLabelText);
</script></body></html>
